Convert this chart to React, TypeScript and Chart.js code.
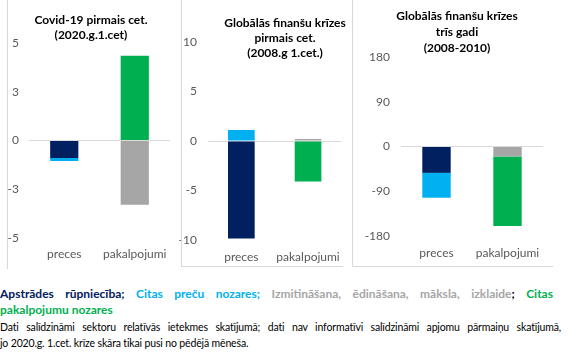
import React, { useEffect, useRef } from 'react';
import { Chart, registerables } from 'chart.js';

Chart.register(...registerables);

const categories = ['preces', 'pakalpojumi'];

const seriesNames = [
  'Apstrādes rūpniecība',
  'Citas preču nozares',
  'Izmitināšana, ēdināšana, māksla, izklaide',
  'Citas pakalpojumu nozares',
];
const seriesColors = ['#002060', '#00B0F0', '#A6A6A6', '#00B050'];

// Covid-19 pirmais cet. (2020.g.1.cet)
const covidManufacturing = [-0.9, null];
const covidOtherGoods = [-0.15, null];
const covidAccommodation = [null, -3.3];
const covidOtherServices = [null, 4.35];
const covidTicks = [5, 2.5, 0, -2.5, -5];

// Globālās finanšu krīzes pirmais cet. (2008.g 1.cet.)
const gfcQ1Manufacturing = [-9.85, null];
const gfcQ1OtherGoods = [1.1, null];
const gfcQ1Accommodation = [null, 0.2];
const gfcQ1OtherServices = [null, -4.1];
const gfcQ1Ticks = [10, 5, 0, -5, -10];

// Globālās finanšu krīzes trīs gadi (2008-2010)
const gfc3yManufacturing = [-53, null];
const gfc3yOtherGoods = [-50, null];
const gfc3yAccommodation = [null, -20];
const gfc3yOtherServices = [null, -140];
const gfc3yTicks = [180, 90, 0, -90, -180];

const FONT = 'Lato, "Liberation Sans", sans-serif';

function fmt(v: number): string {
  const r = Math.round(Math.abs(v));
  return (v < 0 && r !== 0 ? '-' : '') + String(r);
}

type PanelProps = {
  series: (number | null)[][];
  ticks: number[];
  left: number;
  width: number;
  height: number;
  yWidth: number;
  padTop: number;
  padRight: number;
  padBottom: number;
  xHeight: number;
  xPad: number;
  yPad: number;
};

function Panel(p: PanelProps) {
  const ref = useRef<HTMLCanvasElement | null>(null);
  useEffect(() => {
    if (!ref.current) return;
    const chart = new Chart(ref.current, {
      type: 'bar',
      data: {
        labels: categories,
        datasets: p.series.map((d, i) => ({
          label: seriesNames[i],
          data: d as any,
          backgroundColor: seriesColors[i],
          borderWidth: 0,
          categoryPercentage: 0.4,
          barPercentage: 1,
        })),
      },
      options: {
        animation: false,
        responsive: false,
        maintainAspectRatio: false,
        layout: { padding: { top: p.padTop, right: p.padRight, bottom: p.padBottom, left: 0 } },
        plugins: {
          legend: { display: false },
          tooltip: { enabled: false },
          title: { display: false },
        },
        scales: {
          x: {
            stacked: true,
            grid: { display: false, drawTicks: false },
            border: { display: false },
            ticks: {
              color: '#595959',
              font: { family: FONT, size: 12 },
              padding: p.xPad,
              maxRotation: 0,
              minRotation: 0,
              autoSkip: false,
            },
            afterFit: (s: any) => {
              s.height = p.xHeight;
            },
          },
          y: {
            stacked: true,
            min: Math.min(...p.ticks),
            max: Math.max(...p.ticks),
            afterBuildTicks: (s: any) => {
              s.ticks = p.ticks.map((v) => ({ value: v }));
            },
            afterFit: (s: any) => {
              s.width = p.yWidth;
            },
            grid: {
              color: (ctx: any) => (ctx.tick && ctx.tick.value === 0 ? '#D9D9D9' : 'rgba(0,0,0,0)'),
              drawTicks: false,
              lineWidth: 1,
            },
            border: { display: false },
            ticks: {
              color: '#595959',
              font: { family: FONT, size: 12 },
              padding: p.yPad,
              callback: (v: any) => fmt(Number(v)),
            },
          },
        },
      } as any,
    });
    return () => chart.destroy();
  }, []);
  return (
    <canvas
      ref={ref}
      width={p.width}
      height={p.height}
      style={{ position: 'absolute', left: p.left, top: 0, width: p.width, height: p.height, display: 'block' }}
    />
  );
}

const titleStyle: React.CSSProperties = {
  position: 'absolute',
  fontFamily: FONT,
  fontWeight: 700,
  fontSize: 12,
  color: '#000',
  textAlign: 'center',
  whiteSpace: 'nowrap',
  lineHeight: '15px',
};

const border = '#D9D9D9';

const noteStyle: React.CSSProperties = {
  position: 'absolute',
  left: 0,
  fontSize: 10.5,
  letterSpacing: '-0.15px',
  lineHeight: '16px',
  color: '#000',
  whiteSpace: 'nowrap',
};

export default function App() {
  return (
    <div
      style={{
        position: 'absolute',
        left: 0,
        top: 0,
        width: 569,
        height: 356,
        background: '#fff',
        overflow: 'hidden',
        fontFamily: FONT,
      }}
    >
      <Panel
        series={[covidManufacturing, covidOtherGoods, covidAccommodation, covidOtherServices]}
        ticks={covidTicks}
        left={0}
        width={180}
        height={280}
        yWidth={29}
        padTop={43}
        padRight={10}
        padBottom={12}
        xHeight={30}
        xPad={9}
        yPad={10}
      />
      <Panel
        series={[gfcQ1Manufacturing, gfcQ1OtherGoods, gfcQ1Accommodation, gfcQ1OtherServices]}
        ticks={gfcQ1Ticks}
        left={176}
        width={176}
        height={280}
        yWidth={32}
        padTop={42}
        padRight={9}
        padBottom={9}
        xHeight={31}
        xPad={10}
        yPad={11}
      />
      <Panel
        series={[gfc3yManufacturing, gfc3yOtherGoods, gfc3yAccommodation, gfc3yOtherServices]}
        ticks={gfc3yTicks}
        left={353}
        width={216}
        height={280}
        yWidth={48}
        padTop={57}
        padRight={26}
        padBottom={14}
        xHeight={30}
        xPad={10}
        yPad={11}
      />

      {/* Titles */}
      <div style={{ position: 'absolute', left: 0, top: 0, width: 180, height: 60, overflow: 'hidden' }}>
        <div style={{ ...titleStyle, left: 91 - 100, width: 200, top: 12 }}>
          Covid-19 pirmais cet.
          <br />
          (2020.g.1.cet)
        </div>
      </div>
      <div style={{ position: 'absolute', left: 181, top: 0, width: 170, height: 70, overflow: 'hidden' }}>
        <div style={{ ...titleStyle, left: 104 - 100, width: 200, top: 15 }}>
          Globālās finanšu krīzes
          <br />
          pirmais cet.
          <br />
          (2008.g 1.cet.)
        </div>
      </div>
      <div style={{ position: 'absolute', left: 352, top: 0, width: 217, height: 70, overflow: 'hidden' }}>
        <div style={{ ...titleStyle, left: 105 - 100, width: 200, top: 8, lineHeight: '16px' }}>
          Globālās finanšu krīzes
          <br />
          trīs gadi
          <br />
          (2008-2010)
        </div>
      </div>

      {/* Panel borders */}
      <div style={{ position: 'absolute', left: 7, top: 0, width: 1, height: 269, background: border }} />
      <div style={{ position: 'absolute', left: 181, top: 0, width: 1, height: 266, background: border }} />
      <div style={{ position: 'absolute', left: 181, top: 266, width: 162, height: 1, background: border }} />
      <div style={{ position: 'absolute', left: 352, top: 0, width: 1, height: 266, background: border }} />
      <div style={{ position: 'absolute', left: 352, top: 266, width: 201, height: 1, background: border }} />

      {/* Legend text */}
      <div
        style={{
          position: 'absolute',
          left: 0,
          top: 286,
          width: 553,
          fontSize: 12,
          fontWeight: 700,
          lineHeight: '16px',
          textAlign: 'justify',
          textAlignLast: 'justify',
          whiteSpace: 'nowrap',
        }}
      >
        <span style={{ color: seriesColors[0] }}>{seriesNames[0]};</span>{' '}
        <span style={{ color: seriesColors[1] }}>{seriesNames[1]};</span>{' '}
        <span style={{ color: '#A6A6A6' }}>{seriesNames[2]}</span>
        <span style={{ color: '#000' }}>;</span>{' '}
        <span style={{ color: seriesColors[3] }}>Citas</span>
      </div>
      <div
        style={{
          position: 'absolute',
          left: 0,
          top: 302,
          fontSize: 12,
          fontWeight: 700,
          lineHeight: '16px',
          color: seriesColors[3],
          whiteSpace: 'nowrap',
        }}
      >
        pakalpojumu nozares
      </div>
      <div style={{ ...noteStyle, top: 319, width: 561, textAlign: 'justify', textAlignLast: 'justify' }}>
        Dati salīdzināmi sektoru relatīvās ietekmes skatījumā; dati nav informatīvi salīdzināmi apjomu pārmaiņu skatījumā,
      </div>
      <div style={{ ...noteStyle, top: 335 }}>jo 2020.g. 1.cet. krīze skāra tikai pusi no pēdējā mēneša.</div>
    </div>
  );
}
